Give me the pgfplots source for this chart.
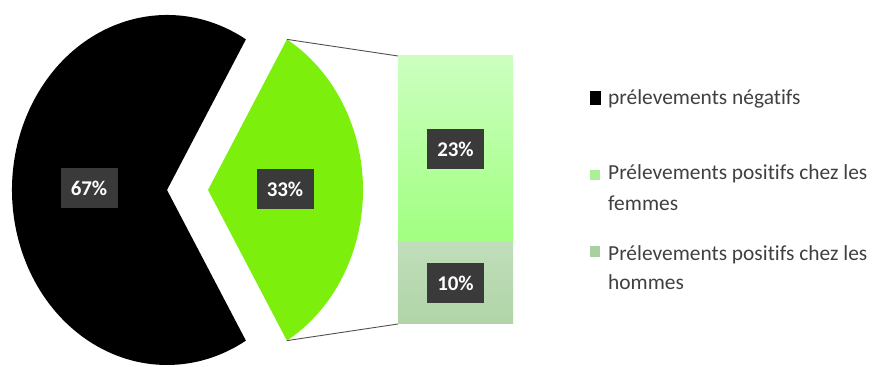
\documentclass[border=0pt]{standalone}
\usepackage{pgfplots}
\pgfplotsset{compat=1.18}
\usepackage{fontspec}
\setmainfont{Carlito}[Ligatures=NoCommon]
\definecolor{pieGreen}{RGB}{124,240,12}
\definecolor{labelBox}{RGB}{58,58,58}
\definecolor{legText}{RGB}{64,64,64}
\definecolor{femTop}{RGB}{204,255,192}
\definecolor{femBot}{RGB}{160,255,128}
\definecolor{homTop}{RGB}{192,222,186}
\definecolor{homBot}{RGB}{176,212,168}
\definecolor{legFem}{RGB}{170,240,150}
\definecolor{legHom}{RGB}{168,208,160}
\definecolor{connector}{RGB}{80,80,80}
% values (%)
\def\vneg{67}
\def\vfem{23}
\def\vhom{10}
\tikzset{lbl/.style={fill=labelBox, text=white, font=\fontsize{21}{21}\selectfont\bfseries,
  minimum width=57bp, minimum height=40bp, inner sep=0pt}}
\begin{document}
\begin{tikzpicture}
\path[use as bounding box] (0,0) rectangle (877bp,367bp);
\pgfmathsetmacro\half{(\vfem+\vhom)*3.6/2}
\pgfmathsetmacro\halfb{360-\half}
\pgfmathsetmacro\halfn{-\half}
\begin{axis}[at={(0,0)}, anchor=south west, width=877bp, height=367bp, scale only axis,
  xmin=0, xmax=877, ymin=0, ymax=367, axis lines=none, clip=false]
  % main pie: negative share
  \fill[black] (axis cs:167,177) -- ++(\half:155bp and 175bp)
     arc[start angle=\half, end angle=\halfb, x radius=155bp, y radius=175bp] -- cycle;
  % exploded positive share
  \fill[pieGreen] (axis cs:208,177) -- ++(\halfn:155bp and 175bp)
     arc[start angle=\halfn, end angle=\half, x radius=155bp, y radius=175bp] -- cycle;
  % connectors
  \draw[connector, line width=0.9bp] (axis cs:208,177) ++(\half:155bp and 175bp) -- (axis cs:398,311);
  \draw[connector, line width=0.9bp] (axis cs:208,177) ++(\halfn:155bp and 175bp) -- (axis cs:398,43);
  % labels
  \node[lbl] at (axis cs:89,178.5) {67\%};
  \node[lbl] at (axis cs:285,178) {33\%};
  % legend
  \fill[black] (axis cs:590,262) rectangle (axis cs:601,276);
  \fill[legFem] (axis cs:590,187) rectangle (axis cs:600,197);
  \fill[legHom] (axis cs:590,110) rectangle (axis cs:600,121);
  \begin{scope}[every node/.style={anchor=base west, inner sep=0pt, text=legText,
      font=\fontsize{21.5}{30}\selectfont}]
    \node at (axis cs:608,262) {prélevements négatifs};
    \node at (axis cs:608,187) {Prélevements positifs chez les};
    \node at (axis cs:608,156) {femmes};
    \node at (axis cs:608,106) {Prélevements positifs chez les};
    \node at (axis cs:608,77) {hommes};
  \end{scope}
\end{axis}
\begin{axis}[at={(398bp,43bp)}, anchor=south west, width=115bp, height=268bp, scale only axis,
  xmin=-0.5, xmax=0.5, ymin=0, ymax=33, axis lines=none, ybar stacked, bar width=1, clip=false]
  \addplot[draw=none, top color=homTop, bottom color=homBot] coordinates {(0,\vhom)};
  \addplot[draw=none, top color=femTop, bottom color=femBot] coordinates {(0,\vfem)};
  \coordinate (l10) at (axis cs:0,5);
  \coordinate (l23) at (axis cs:0,21.5);
\end{axis}
\node[lbl] at (l10) {10\%};
\node[lbl] at (l23) {23\%};
\end{tikzpicture}
\end{document}
